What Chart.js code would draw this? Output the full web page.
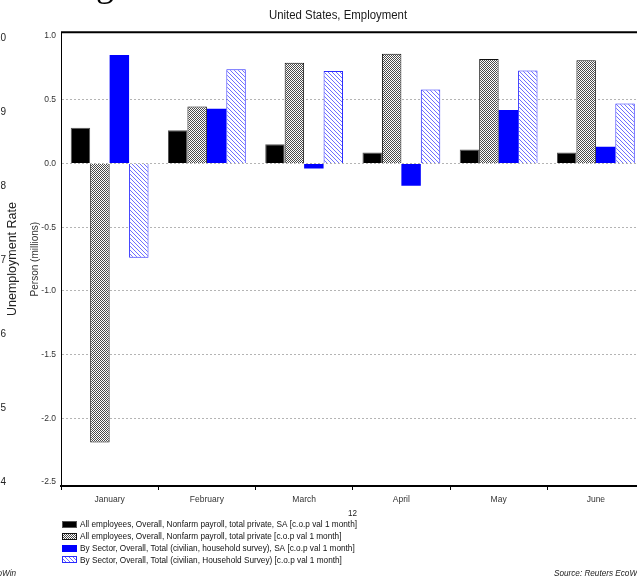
<!DOCTYPE html>
<html><head><meta charset="utf-8">
<script src="https://cdn.jsdelivr.net/npm/chart.js@4.4.0/dist/chart.umd.min.js"></script>
<style>
html,body{margin:0;padding:0;background:#fff;overflow:hidden;width:637px;height:577px;}
#wrap{position:absolute;left:0;top:0;width:650px;height:577px;}
canvas{display:block;}
</style></head><body>
<div id="wrap"><canvas id="c" width="650" height="577" style="width:650px;height:577px"></canvas></div>
<script>
// ---- data ----
const months = ['January', 'February', 'March', 'April', 'May', 'June'];
const payrollSA = [0.28, 0.26, 0.15, 0.086, 0.11, 0.086];
const payrollNSA = [-2.19, 0.446, 0.79, 0.86, 0.82, 0.81];
const householdSA = [0.85, 0.43, -0.04, -0.175, 0.42, 0.13];
const householdNSA = [-0.74, 0.74, 0.725, 0.58, 0.73, 0.47];
const seriesLabels = [
  'All employees, Overall, Nonfarm payroll, total private, SA [c.o.p val 1 month]',
  'All employees, Overall, Nonfarm payroll, total private [c.o.p val 1 month]',
  'By Sector, Overall, Total (civilian, household survey), SA [c.o.p val 1 month]',
  'By Sector, Overall, Total (civilian, Household Survey) [c.o.p val 1 month]'
];
const yTicks = [-2.5, -2.0, -1.5, -1.0, -0.5, 0.0, 0.5, 1.0];
const chartTitle = 'United States, Employment';
const yTitle = 'Person (millions)';
const ghostTickLabels = ['10', '9', '8', '7', '6', '5', '4'];
const ghostAxisTitle = 'Unemployment Rate';
const yearLabel = '12';
const sourceText = 'Source: Reuters EcoWin';
const leftSourceText = 'EcoWin';

const FONT = "'Liberation Sans', Arial, sans-serif";

// ---- patterns ----
function checker() {
  const c = document.createElement('canvas'); c.width = 2; c.height = 2;
  const x = c.getContext('2d');
  x.fillStyle = '#ffffff'; x.fillRect(0, 0, 2, 2);
  x.fillStyle = '#4a4a4a'; x.fillRect(0, 0, 1, 1); x.fillRect(1, 1, 1, 1);
  return x.createPattern(c, 'repeat');
}
function hatch() {
  const c = document.createElement('canvas'); c.width = 4; c.height = 4;
  const x = c.getContext('2d');
  x.fillStyle = '#ffffff'; x.fillRect(0, 0, 4, 4);
  x.fillStyle = '#7070ff';
  for (let i = 0; i < 4; i++) x.fillRect(i, i, 1, 1);
  return x.createPattern(c, 'repeat');
}
const pChecker = checker();
const pHatch = hatch();

function narrowText(ctx, text, x, y, sx) {
  ctx.save();
  ctx.translate(x, y);
  ctx.scale(sx, 1);
  ctx.fillText(text, 0, 0);
  ctx.restore();
}

const extras = {
  id: 'extras',
  afterDraw(chart) {
    const ctx = chart.ctx;
    const a = chart.chartArea;
    ctx.save();
    // top frame line
    ctx.strokeStyle = '#000'; ctx.lineWidth = 2;
    ctx.beginPath(); ctx.moveTo(a.left, a.top); ctx.lineTo(a.right, a.top); ctx.stroke();
    // title
    ctx.fillStyle = '#1a1a1a';
    ctx.font = '12px ' + FONT;
    ctx.textAlign = 'center'; ctx.textBaseline = 'middle';
    narrowText(ctx, chartTitle, 338, 16, 0.95);
    // big cropped title glyph
    ctx.font = '36px "Liberation Serif", serif';
    ctx.textAlign = 'left'; ctx.textBaseline = 'alphabetic';
    ctx.fillStyle = '#000';
    ctx.fillText('g', 96, -4);
    // ghost axis of neighbour chart
    ctx.font = '10px ' + FONT;
    ctx.fillStyle = '#222';
    ctx.textAlign = 'right'; ctx.textBaseline = 'middle';
    ghostTickLabels.forEach((t, i) => ctx.fillText(t, 6, 38 + i * 74));
    ctx.save();
    ctx.translate(13, 259); ctx.rotate(-Math.PI / 2);
    ctx.textAlign = 'center'; ctx.font = '12.5px ' + FONT;
    ctx.fillText(ghostAxisTitle, 0, 0);
    ctx.restore();
    // year label
    ctx.font = '9px ' + FONT; ctx.fillStyle = '#222';
    ctx.textAlign = 'right';
    narrowText(ctx, yearLabel, 357, 514, 0.9);
    // legend
    ctx.textAlign = 'left';
    ctx.font = '9px ' + FONT;
    const sx = 277 / ctx.measureText(chart.data.datasets[0].label).width;
    chart.data.datasets.forEach((ds, i) => {
      const y = 525 + i * 11.8;
      ctx.fillStyle = ds.backgroundColor;
      ctx.fillRect(62, Math.round(y - 4), 15, 7);
      if (ds.borderWidth) {
        ctx.strokeStyle = ds.borderColor; ctx.lineWidth = 1;
        ctx.strokeRect(62.5, Math.round(y - 4) + 0.5, 14, 6);
      }
      ctx.fillStyle = '#111';
      narrowText(ctx, ds.label, 80, y, sx);
    });
    // sources
    ctx.font = 'italic 9.5px ' + FONT; ctx.fillStyle = '#222';
    ctx.textAlign = 'left';
    narrowText(ctx, sourceText, 554, 573, 0.86);
    ctx.textAlign = 'right';
    narrowText(ctx, leftSourceText, 16, 573, 0.86);
    ctx.restore();
  }
};

new Chart(document.getElementById('c'), {
  type: 'bar',
  data: {
    labels: months,
    datasets: [
      { label: seriesLabels[0], data: payrollSA, backgroundColor: '#000000', borderColor: '#555555', borderWidth: 1 },
      { label: seriesLabels[1], data: payrollNSA, backgroundColor: pChecker, borderColor: '#111111', borderWidth: 1 },
      { label: seriesLabels[2], data: householdSA, backgroundColor: '#0000ff', borderColor: '#0000ff', borderWidth: 0 },
      { label: seriesLabels[3], data: householdNSA, backgroundColor: pHatch, borderColor: '#2a2aff', borderWidth: 1 }
    ]
  },
  options: {
    responsive: false, animation: false, devicePixelRatio: 1,
    layout: { padding: { left: 0, right: 5.5, top: 32.3, bottom: 0 } },
    datasets: { bar: { categoryPercentage: 0.8, barPercentage: 1.0 } },
    plugins: { legend: { display: false }, tooltip: { enabled: false }, title: { display: false } },
    scales: {
      x: {
        offset: true,
        grid: { display: true, offset: true, drawOnChartArea: false, drawTicks: true, tickLength: 4, color: '#000', tickColor: '#000', tickWidth: 1 },
        border: { display: true, color: '#000', width: 2 },
        ticks: { color: '#333', font: { family: FONT, size: 8.5 }, padding: 5, maxRotation: 0, autoSkip: false },
        afterFit(s) { s.height = 91; }
      },
      y: {
        min: -2.531, max: 1.029,
        afterBuildTicks(s) { s.ticks = yTicks.map(v => ({ value: v })); },
        ticks: { color: '#333', font: { family: FONT, size: 8.5 }, padding: 5, callback: v => Number(v).toFixed(1) },
        grid: { drawTicks: false, lineWidth: 1, color: c => (c.tick && c.tick.value > -2.4 && c.tick.value < 0.9) ? '#b4b4b4' : 'rgba(0,0,0,0)' },
        border: { display: true, color: '#000', width: 1, dash: [2, 2] },
        title: { display: true, text: yTitle, color: '#333', font: { family: FONT, size: 10 }, padding: { top: 29, bottom: 0 } },
        afterFit(s) { s.width = 61; }
      }
    }
  },
  plugins: [extras]
});
</script>
</body></html>
